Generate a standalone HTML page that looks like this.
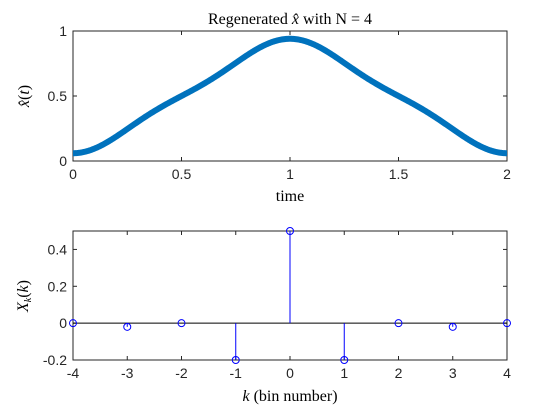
<!DOCTYPE html>
<html><head><meta charset="utf-8"><style>
html,body{margin:0;padding:0;background:#fff;}
svg{display:block;font-family:"Liberation Sans",sans-serif;}
.ser{font-family:"Liberation Serif",serif;}
</style></head><body>
<svg id="c" width="560" height="420" viewBox="0 0 560 420">
<rect width="560" height="420" fill="#fff"/>
</svg>
<script>
const bins = [-4,-3,-2,-1,0,1,2,3,4];
const coeffs = [0,-0.02,0,-0.2,0.5,-0.2,0,-0.02,0];
const topXTicks = [0,0.5,1,1.5,2];
const topYTicks = [0,0.5,1];
const botXTicks = [-4,-3,-2,-1,0,1,2,3,4];
const botYTicks = [-0.2,0,0.2,0.4];
const period = 2;

const NS="http://www.w3.org/2000/svg";
const svg=document.getElementById('c');
function mk(tag,attrs,parent){const e=document.createElementNS(NS,tag);for(const k in attrs)e.setAttribute(k,attrs[k]);(parent||svg).appendChild(e);return e;}

const T={x0:73,x1:507,y0:161,y1:31,xmin:0,xmax:2,ymin:0,ymax:1};
const B={x0:73,x1:507,y0:360,y1:231,xmin:-4,xmax:4,ymin:-0.2,ymax:0.5};
function sx(a,v){return a.x0+(v-a.xmin)/(a.xmax-a.xmin)*(a.x1-a.x0);}
function sy(a,v){return a.y0-(v-a.ymin)/(a.ymax-a.ymin)*(a.y0-a.y1);}

function axes(a,xt,yt,name){
  const g=mk('g',{});
  
  
  mk('rect',{x:a.x0,y:a.y1,width:a.x1-a.x0,height:a.y0-a.y1,fill:'#fff',stroke:'#262626','stroke-width':1},g);
  xt.forEach(v=>{const x=sx(a,v);
    mk('line',{x1:x,x2:x,y1:a.y0,y2:a.y0-4,stroke:'#262626'},g);
    mk('line',{x1:x,x2:x,y1:a.y1,y2:a.y1+4,stroke:'#262626'},g);
    const t=mk('text',{x:x,y:a.y0+18,'text-anchor':'middle','font-size':14,fill:'#262626'},g);t.textContent=v;
    
    });
  yt.forEach(v=>{const y=sy(a,v);
    mk('line',{x1:a.x0,x2:a.x0+4,y1:y,y2:y,stroke:'#262626'},g);
    mk('line',{x1:a.x1,x2:a.x1-4,y1:y,y2:y,stroke:'#262626'},g);
    const t=mk('text',{x:a.x0-6,y:y+5,'text-anchor':'end','font-size':14,fill:'#262626'},g);t.textContent=v;
    
    });
  return g;
}
axes(T,topXTicks,topYTicks,'top-axes');
axes(B,botXTicks,botYTicks,'bottom-axes');

let d='';
for(let i=0;i<=400;i++){
  const t=T.xmin+(T.xmax-T.xmin)*i/400;
  let v=0;
  bins.forEach((k,j)=>{v+=coeffs[j]*Math.cos(2*Math.PI*k*t/period);});
  d+=(i?'L':'M')+sx(T,t).toFixed(2)+','+sy(T,v).toFixed(2);
}
const curve=mk('path',{d:d,fill:'none',stroke:'#0072BD','stroke-width':6,'stroke-linejoin':'round'});



const bl=mk('line',{x1:sx(B,-4),x2:sx(B,4),y1:sy(B,0),y2:sy(B,0),stroke:'#000','stroke-width':1});


bins.forEach((k,j)=>{
  const x=sx(B,k),y=sy(B,coeffs[j]);
  const g=mk('g',{});
  
  
  mk('line',{x1:x,x2:x,y1:sy(B,0),y2:y,stroke:'#0000FF','stroke-width':1},g);
  mk('circle',{cx:x,cy:y,r:3.5,fill:'none',stroke:'#0000FF','stroke-width':1},g);
});

function label(x,y,html,name,rot){
  const t=mk('text',{x:x,y:y,'text-anchor':'middle','font-size':16,fill:'#000','class':'ser'});
  if(rot)t.setAttribute('transform','rotate(-90 '+x+' '+y+')');
  t.innerHTML=html;
  
  
}
label(290,24,'Regenerated <tspan font-style="italic">x̂</tspan> with N = 4','top-title');
label(290,201,'time','top-x-axis-title');
label(29,96,'<tspan font-style="italic">x̂</tspan>(<tspan font-style="italic">t</tspan>)','top-y-axis-title',true);
label(290,401,'<tspan font-style="italic">k</tspan> (bin number)','bottom-x-axis-title');
label(28,296,'<tspan font-style="italic">X</tspan><tspan font-style="italic" font-size="10" dy="3">k</tspan><tspan dy="-3">(</tspan><tspan font-style="italic">k</tspan>)','bottom-y-axis-title',true);
</script>
</body></html>
